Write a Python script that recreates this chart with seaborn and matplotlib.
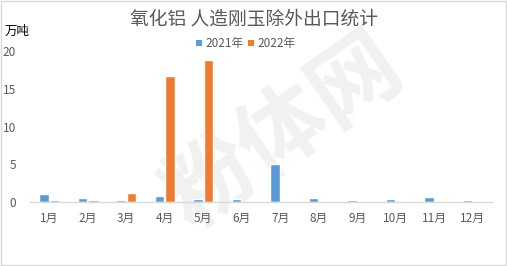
import matplotlib
matplotlib.use("Agg")
import matplotlib.pyplot as plt
import seaborn as sns
import pandas as pd
from matplotlib.patches import Rectangle

months = ["1月", "2月", "3月", "4月", "5月", "6月", "7月", "8月", "9月", "10月", "11月", "12月"]
v2021 = [1.05, 0.55, 0.28, 0.8, 0.42, 0.42, 5.0, 0.55, 0.3, 0.42, 0.65, 0.3]
v2022 = [0.28, 0.28, 1.2, 16.7, 18.8, 0, 0, 0, 0, 0, 0, 0]
series = ["2021年", "2022年"]
colors = ["#5B9BD5", "#ED7D31"]

df = pd.DataFrame({
    "month": months * 2,
    "value": v2021 + v2022,
    "year": [series[0]] * 12 + [series[1]] * 12,
})

sns.set_theme(style="white")
plt.rcParams['font.family'] = ['Noto Sans CJK SC', 'DejaVu Sans']

fig = plt.figure(figsize=(5.07, 2.66), dpi=100)
ax = fig.add_axes([30 / 507, 1 - 202 / 266, 462 / 507, 151 / 266])
ax.set_facecolor("none")

# watermark (behind everything)
fig.text(0.56, 0.5, "粉体网", fontsize=64, color="#f1f1f1", rotation=35,
         ha="center", va="center", fontweight="bold", zorder=-5)

sns.barplot(data=df, x="month", y="value", hue="year", palette=colors,
            width=0.55, gap=0.1, ax=ax, legend=False, saturation=1)

ax.set_ylim(0, 20)
ax.set_xlim(-0.5, 11.5)
ax.set_yticks([0, 5, 10, 15, 20])
ax.set_xlabel("")
ax.set_ylabel("")
for s in ["top", "right", "left"]:
    ax.spines[s].set_visible(False)
ax.spines["bottom"].set_color("#d9d9d9")
ax.spines["bottom"].set_linewidth(1)
ax.tick_params(axis="both", length=0, labelsize=8.5, labelcolor="#595959")
ax.tick_params(axis="x", pad=7)
ax.tick_params(axis="y", pad=10)

fig.text(0.5, 1 - 19 / 266, "氧化铝 人造刚玉除外出口统计", ha="center", va="center",
         fontsize=13.5, color="#595959")
fig.text(5 / 507, 1 - 31 / 266, "万吨", ha="left", va="center", fontsize=9, color="black")

# legend
ly = 1 - 43 / 266
for i, (lbl, c) in enumerate(zip(series, colors)):
    x0 = (196 + i * 52) / 507
    fig.patches.append(Rectangle((x0, ly - 3 / 266), 6 / 507, 6 / 266, transform=fig.transFigure,
                                 facecolor=c, edgecolor="none"))
    fig.text(x0 + 9 / 507, ly, lbl, ha="left", va="center", fontsize=8.5, color="#595959")

fig.patches.append(Rectangle((0.001, 0.002), 0.997, 0.995, transform=fig.transFigure,
                             facecolor="none", edgecolor="#d9d9d9", linewidth=1))

fig.savefig("out.png", dpi=100)
